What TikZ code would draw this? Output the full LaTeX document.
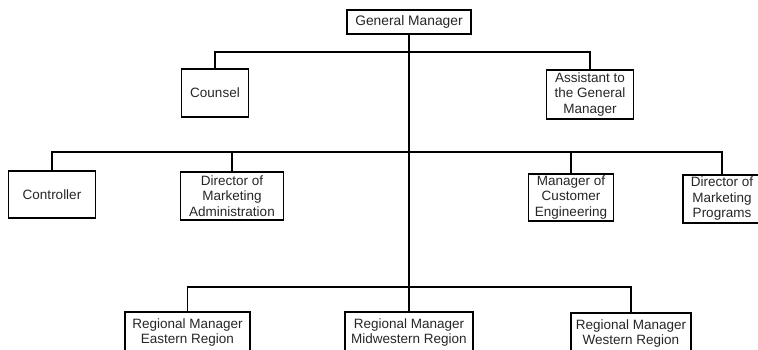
\documentclass[tikz,border=0pt]{standalone}
\usepackage{fontspec}
\setmainfont{Liberation Sans}
\begin{document}
\begin{tikzpicture}[x=1pt,y=-1pt,
  box/.style={draw, line width=1.4pt, align=center, inner sep=0pt,
    font=\fontsize{13.5}{15.5}\selectfont, text=black!85},
  conn/.style={line width=1.3pt}]
\useasboundingbox (0,0) rectangle (758,350);
\clip (0,0) rectangle (758,350);
\node[box, minimum width=124pt, minimum height=24pt, font=\fontsize{13.8}{15.5}\selectfont] (gm) at (409,22) {General Manager};
\node[box, minimum width=67pt, minimum height=48pt] (counsel) at (215,93) {Counsel};
\node[box, minimum width=87pt, minimum height=49pt] (asst) at (590,94.5) {Assistant to\\the General\\Manager};
\node[box, minimum width=87pt, minimum height=47pt] (ctrl) at (52,194.5) {Controller};
\node[box, minimum width=103pt, minimum height=48pt] (dma) at (232,196) {Director of\\Marketing\\Administration};
\node[box, minimum width=85pt, minimum height=47pt] (mce) at (571,197.5) {Manager of\\Customer\\Engineering};
\node[box, minimum width=78pt, minimum height=48pt] (prog) at (722,199) {Director of\\Marketing\\Programs};
\node[box, minimum width=125pt, minimum height=41pt] (east) at (187.5,332.5) {Regional Manager\\Eastern Region};
\node[box, minimum width=128pt, minimum height=41pt] (mid) at (409,332.5) {Regional Manager\\Midwestern Region};
\node[box, minimum width=120pt, minimum height=41pt] (west) at (631,333.5) {Regional Manager\\Western Region};
\coordinate (b1) at (409,52);
\coordinate (b2) at (409,152);
\coordinate (b3) at (409,287);
\draw[conn] (gm.south) -- (mid.north);
\draw[conn] (counsel.north) |- (b1) -| (asst.north);
\draw[conn] (ctrl.north) |- (b2) -| (prog.north);
\draw[conn] (dma.north) -- (dma.north |- b2);
\draw[conn] (mce.north) -- (mce.north |- b2);
\draw[conn] (east.north) |- (b3) -| (west.north);
\end{tikzpicture}
\end{document}
